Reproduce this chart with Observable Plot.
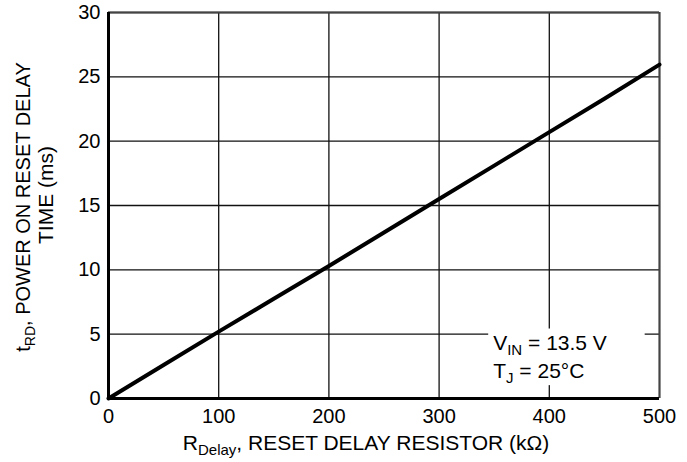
<!DOCTYPE html>
<html>
<head>
<meta charset="utf-8">
<script src="https://cdn.jsdelivr.net/npm/d3@7"></script>
<script src="https://cdn.jsdelivr.net/npm/@observablehq/plot@0.6"></script>
<style>
  html, body { margin: 0; padding: 0; background: #fff; }
  #chart svg { display: block; font-family: "Liberation Sans", Arial, Helvetica, sans-serif; }
</style>
</head>
<body>
<div id="chart"></div>
<script>
// Data
const resistance = [0, 50, 100, 150, 200, 250, 300, 350, 400, 450, 500];   // kΩ
const delayTime  = [0, 2.6, 5.2, 7.75, 10.3, 12.9, 15.5, 18.1, 20.7, 23.3, 25.95]; // ms

const xTicks = [0, 100, 200, 300, 400, 500];
const yTicks = [0, 5, 10, 15, 20, 25, 30];

// Condition annotation box (in data units)
const noteBox = [{x1: 345, x2: 487, y1: 1.0, y2: 5.4}];
const noteLines = [
  {main: "V", sub: "IN", rest: " = 13.5 V"},
  {main: "T", sub: "J", rest: " = 25°C"}
];

const data = resistance.map((r, i) => ({r, t: delayTime[i]}));

const W = 687, H = 462;
const chart = Plot.plot({
  width: W,
  height: H,
  marginLeft: 108,
  marginRight: 28,
  marginTop: 12,
  marginBottom: 64,
  style: {fontFamily: '"Liberation Sans", Arial, Helvetica, sans-serif', fontSize: "20px", color: "#000", background: "#fff"},
  x: {domain: [0, 500]},
  y: {domain: [0, 30]},
  marks: [
    Plot.ruleX(xTicks, {stroke: "#111", strokeWidth: 1.3}),
    Plot.ruleY(yTicks, {stroke: "#111", strokeWidth: 1.3}),
    Plot.rect(noteBox, {x1: "x1", x2: "x2", y1: "y1", y2: "y2", fill: "#fff"}),
    Plot.ruleY([30], {stroke: "#444", strokeWidth: 2}),
    Plot.ruleX([500], {stroke: "#444", strokeWidth: 2}),
    Plot.ruleX([0], {stroke: "#000", strokeWidth: 3}),
    Plot.ruleY([0], {stroke: "#000", strokeWidth: 3}),
    Plot.line(data, {x: "r", y: "t", stroke: "#000", strokeWidth: 4}),
    Plot.axisX(xTicks, {tickSize: 0, tickPadding: 10, fontSize: 20, label: null}),
    Plot.axisY(yTicks, {tickSize: 0, tickPadding: 8, fontSize: 20, label: null})
  ]
});
document.getElementById("chart").appendChild(chart);

// Titles and annotation with subscripts
const svg = d3.select(chart);
const xs = chart.scale("x"), ys = chart.scale("y");
const [xr0, xr1] = xs.range, [yr0, yr1] = ys.range;
const cy = (yr0 + yr1) / 2;
const fam = '"Liberation Sans", Arial, Helvetica, sans-serif';

function richText(g, x, y, parts, opts = {}) {
  const size = opts.size || 21;
  const t = g.append("text")
    .attr("x", x).attr("y", y)
    .attr("font-family", fam)
    .attr("font-size", size)
    .attr("fill", "#000")
    .attr("text-anchor", opts.anchor || "start");
  if (opts.rotate) t.attr("transform", `rotate(${opts.rotate},${x},${y})`);
  let shifted = false;
  for (const p of parts) {
    if (p.sub) {
      t.append("tspan").attr("font-size", Math.round(size * 0.72)).attr("dy", 5).text(p.sub);
      shifted = true;
    } else {
      const s = t.append("tspan").text(p.text);
      if (shifted) { s.attr("dy", -5); shifted = false; }
    }
  }
  return t;
}

const g = svg.append("g");
// X title
richText(g, 366, 450, [{text: "R"}, {sub: "Delay"}, {text: ", RESET DELAY RESISTOR (kΩ)"}], {anchor: "middle"});
// Y title (two lines)
richText(g, 30, cy + 2, [{text: "t"}, {sub: "RD"}, {text: ", POWER ON RESET DELAY"}], {anchor: "middle", rotate: -90, size: 20});
richText(g, 53, cy - 10, [{text: "TIME (ms)"}], {anchor: "middle", rotate: -90});
// Annotation
const nx = xs.apply(noteBox[0].x1) + 5;
noteLines.forEach((l, i) => {
  richText(g, nx, ys.apply(noteBox[0].y2) + 21 + i * 28, [{text: l.main}, {sub: l.sub}, {text: l.rest}]);
});
</script>
</body>
</html>
